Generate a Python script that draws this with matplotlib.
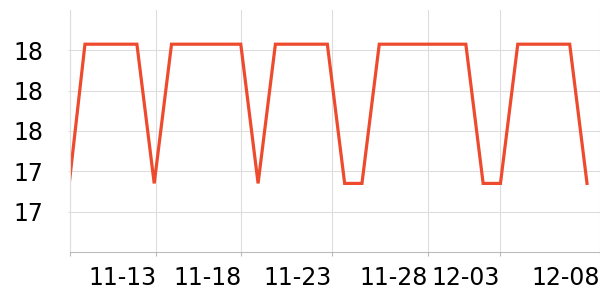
import matplotlib
matplotlib.use('Agg')
import matplotlib.pyplot as plt

# daily values, 31 points
values = [17.27, 18.03, 18.03, 18.03, 18.03, 17.34, 18.03, 18.03, 18.03, 18.03,
          18.03, 17.34, 18.03, 18.03, 18.03, 18.03, 17.34, 17.34, 18.03, 18.03,
          18.03, 18.03, 18.03, 18.03, 17.34, 17.34, 18.03, 18.03, 18.03, 18.03,
          17.34]
x_ticks = [0.147, 5.115, 10.03, 15.28, 20.79, 24.99, 30.75]
x_labels = ['', '11-13', '11-18', '11-23', '11-28', '12-03', '12-08']
y_ticks = [17.2, 17.4, 17.6, 17.8, 18.0]
y_labels = ['17', '17', '18', '18', '18']

fig = plt.figure(figsize=(6, 3), dpi=100)
ax = fig.add_axes([0.117, 0.16, 0.883, 0.807])

ax.plot(range(len(values)), values, color='#ee4b2e', lw=2.3, solid_joinstyle='miter')

ax.set_xlim(0.147, 30.75)
ax.set_ylim(17.0, 18.2)
ax.set_xticks(x_ticks)
ax.set_xticklabels(x_labels, ha='right')
ax.set_yticks(y_ticks)
ax.set_yticklabels(y_labels)

ax.grid(True, color='#dddddd', lw=0.8)
ax.set_axisbelow(True)
for s in ['top', 'right']:
    ax.spines[s].set_visible(False)
ax.spines['left'].set_color('#dddddd')
ax.spines['bottom'].set_color('#bbbbbb')
ax.spines['left'].set_linewidth(0.8)
ax.spines['bottom'].set_linewidth(0.8)
ax.tick_params(axis='x', length=3, color='#bbbbbb', labelsize=17, pad=7)
ax.tick_params(axis='y', length=1.5, color='#dddddd', labelsize=17, pad=18)

fig.savefig('out.png', dpi=100)
